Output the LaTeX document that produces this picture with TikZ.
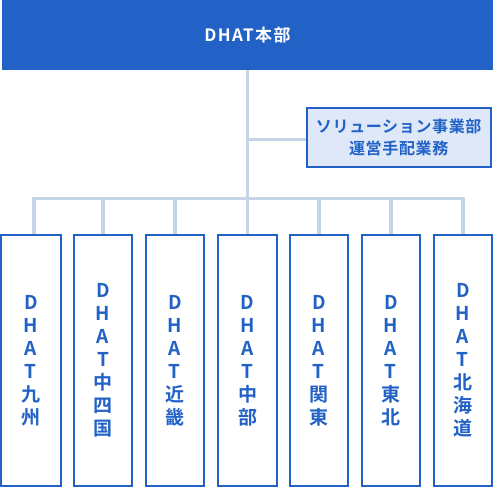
\documentclass[tikz,border=0pt]{standalone}
\usepackage{fontspec}
\newfontfamily\jp{Noto Sans CJK JP}[BoldFont={Noto Sans CJK JP Bold}]
\definecolor{dblue}{HTML}{2262C6}
\definecolor{lineblue}{HTML}{C6D4E8}
\definecolor{sidefill}{HTML}{DEE8F9}
\begin{document}
\begin{tikzpicture}[x=1pt,y=-1pt,
  hqbox/.style={fill=dblue, text=white, minimum width=491pt, minimum height=70pt, inner sep=0pt,
    font=\jp\bfseries\fontsize{17}{20}\selectfont\addfontfeature{LetterSpace=8}},
  sidebox/.style={draw=dblue, line width=2pt, fill=sidefill, text=dblue, minimum width=184pt,
    minimum height=58.7pt, inner sep=0pt, align=center,
    font=\jp\bfseries\fontsize{16}{22}\selectfont\addfontfeature{LetterSpace=4}},
  branchbox/.style={draw=dblue, line width=2pt, fill=white, text=dblue, minimum width=58.5pt,
    minimum height=250.7pt, inner sep=0pt, align=center,
    font=\jp\bfseries\fontsize{19}{23}\selectfont},
  conn/.style={draw=lineblue, line width=3.4pt, line join=miter}]
\useasboundingbox (0,0) rectangle (494,488);
\node[hqbox] (hq) at (247.5,35) {DHAT本部};
\node[sidebox] (side) at (398.7,137.7) {ソリューション事業部\\運営手配業務};
\node[branchbox, minimum width=59.7pt] (b1) at (30.85,360.65) {D\\H\\A\\T\\九\\州};
\node[branchbox] (b2) at (103,360.65) {D\\H\\A\\T\\中\\四\\国};
\node[branchbox] (b3) at (174.8,360.65) {D\\H\\A\\T\\近\\畿};
\node[branchbox] (b4) at (247.5,360.65) {D\\H\\A\\T\\中\\部};
\node[branchbox] (b5) at (318.9,360.65) {D\\H\\A\\T\\関\\東};
\node[branchbox] (b6) at (390.9,360.65) {D\\H\\A\\T\\東\\北};
\node[branchbox] (b7) at (462.8,360.65) {D\\H\\A\\T\\北\\海\\道};
\coordinate (bus) at (247.5,198.3);
\coordinate (br) at ([yshift=-2pt]side.west);
\draw[conn] (hq.south) -- (b4.north);
\draw[conn] (hq.south |- br) -- (br);
\draw[conn] ([xshift=3pt]b1.north) -- ([xshift=3pt]b1.north |- bus) -- (b7.north |- bus) -- (b7.north);
\foreach \b in {b2,b3,b5,b6} \draw[conn] (\b.north |- bus) -- (\b.north);
\end{tikzpicture}
\end{document}
